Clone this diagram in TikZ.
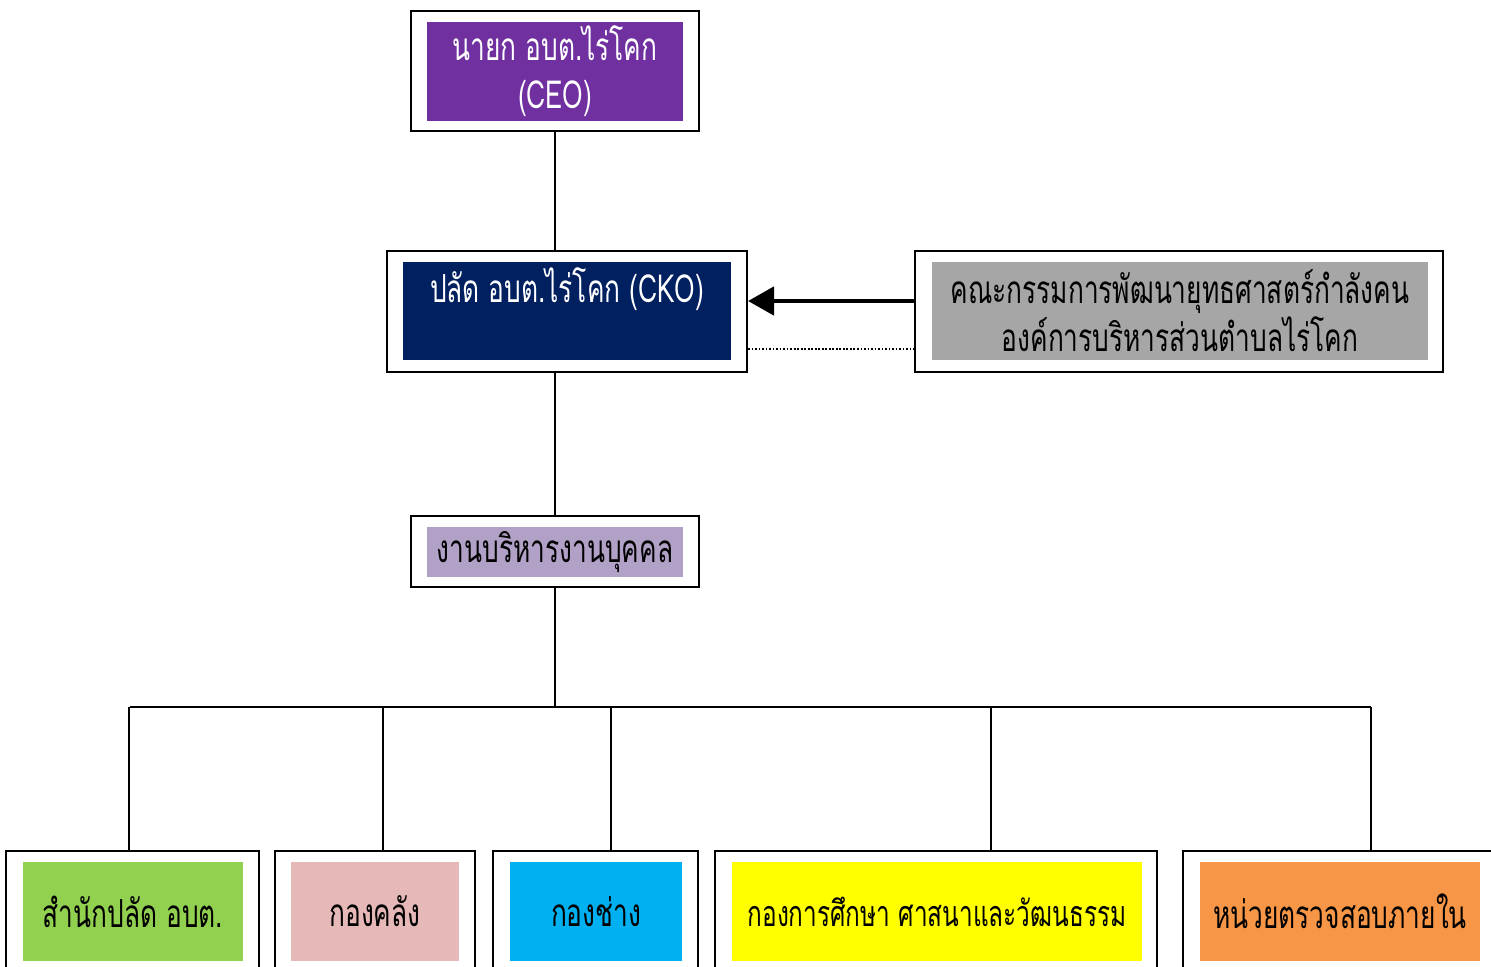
\documentclass[tikz,border=0pt]{standalone}
\usepackage{fontspec}
\newfontfamily\thaifont[Script=Thai, FakeStretch=0.68]{Loma}
\usetikzlibrary{arrows.meta,positioning}
\definecolor{ceopurple}{HTML}{7030A0}
\definecolor{ckonavy}{HTML}{002060}
\definecolor{commgray}{HTML}{A6A6A6}
\definecolor{hrlilac}{HTML}{B2A1C7}
\definecolor{offgreen}{HTML}{92D050}
\definecolor{finpink}{HTML}{E6B9B8}
\definecolor{engblue}{HTML}{00B0F0}
\definecolor{eduyellow}{HTML}{FFFF00}
\definecolor{audorange}{HTML}{F79646}

\begin{document}
\begin{tikzpicture}
\tikzstyle{every node}+=[inner sep=0pt]
\tikzstyle{frame}=[draw=black, line width=0.6pt, fill=white]
\tikzstyle{panel}=[align=center, font=\thaifont\fontsize{11}{13.7}\selectfont]
\tikzstyle{link}=[draw=black, line width=0.6pt]
\useasboundingbox (0,0) rectangle (14.91,-9.66);
\clip (0,0) rectangle (14.91,-9.66);
\node [frame, minimum width=2.88cm, minimum height=1.20cm] (ceo) at (5.55,-0.71) {};
\node [panel, fill=ceopurple, text=white, minimum width=2.56cm, minimum height=0.99cm] (ceoin) at (5.55,-0.715) {นายก อบต.ไร่โคก\\(CEO)};
\node [frame, minimum width=3.60cm, minimum height=1.21cm] (cko) at (5.67,-3.115) {};
\node [panel, fill=ckonavy, text=white, minimum width=3.28cm, minimum height=0.98cm] (ckoin) at (5.67,-3.11) {ปลัด อบต.ไร่โคก (CKO)\\[-3pt]\strut};
\node [frame, minimum width=5.28cm, minimum height=1.21cm] (comm) at (11.79,-3.115) {};
\node [panel, fill=commgray, minimum width=4.96cm, minimum height=0.98cm] (commin) at (11.80,-3.11) {คณะกรรมการพัฒนายุทธศาสตร์กำลังคน\\องค์การบริหารส่วนตำบลไร่โคก};
\node [frame, minimum width=2.88cm, minimum height=0.71cm] (hr) at (5.55,-5.515) {};
\node [panel, fill=hrlilac, minimum width=2.56cm, minimum height=0.50cm] (hrin) at (5.55,-5.52) {งานบริหารงานบุคคล};
\node [frame, minimum width=2.53cm, minimum height=1.21cm] (off) at (1.325,-9.115) {};
\node [panel, fill=offgreen, minimum width=2.20cm, minimum height=0.99cm] (offin) at (1.33,-9.115) {สำนักปลัด อบต.};
\node [frame, minimum width=2.00cm, minimum height=1.21cm] (fin) at (3.75,-9.115) {};
\node [panel, fill=finpink, minimum width=1.68cm, minimum height=0.99cm] (finin) at (3.75,-9.115) {กองคลัง};
\node [frame, minimum width=2.05cm, minimum height=1.21cm] (eng) at (5.955,-9.115) {};
\node [panel, fill=engblue, minimum width=1.72cm, minimum height=0.99cm] (engin) at (5.96,-9.115) {กองช่าง};
\node [frame, minimum width=4.42cm, minimum height=1.21cm] (edu) at (9.36,-9.115) {};
\node [panel, fill=eduyellow, minimum width=4.10cm, minimum height=0.99cm, font=\thaifont\fontsize{10.2}{13.7}\selectfont] (eduin) at (9.37,-9.115) {กองการศึกษา ศาสนาและวัฒนธรรม};
\node [frame, minimum width=3.14cm, minimum height=1.21cm] (aud) at (13.40,-9.115) {};
\node [panel, fill=audorange, minimum width=2.80cm, minimum height=0.99cm] (audin) at (13.40,-9.11) {หน่วยตรวจสอบภายใน};
\coordinate (busleft) at (1.30,-7.07);
\coordinate (busright) at (13.71,-7.07);
\coordinate (t1) at (1.29,-7.07);
\coordinate (t2) at (3.83,-7.07);
\coordinate (t3) at (6.11,-7.07);
\coordinate (t4) at (9.91,-7.07);
\coordinate (t5) at (13.71,-7.07);
\draw [link] (ceo.south) -- (ceo.south |- cko.north);
\draw [link] (hr.north |- cko.south) -- (hr.north);
\draw [link] (hr.south) -- (hr.south |- busleft);
\draw [link] (busleft) -- (busright);
\draw [link] (t1) -- (t1 |- off.north);
\draw [link] (t2) -- (t2 |- fin.north);
\draw [link] (t3) -- (t3 |- eng.north);
\draw [link] (t4) -- (t4 |- edu.north);
\draw [link] (t5) -- (t5 |- aud.north);
\draw [line width=1.3pt, -{Triangle[length=7.4pt,width=8pt]}] ([yshift=0.105cm]comm.west) -- ([yshift=0.105cm]cko.east);
\draw [line width=0.5pt, dash pattern=on 0.5pt off 0.5pt] ([yshift=-0.375cm]cko.east) -- ([yshift=-0.375cm]comm.west);
\end{tikzpicture}
\end{document}
